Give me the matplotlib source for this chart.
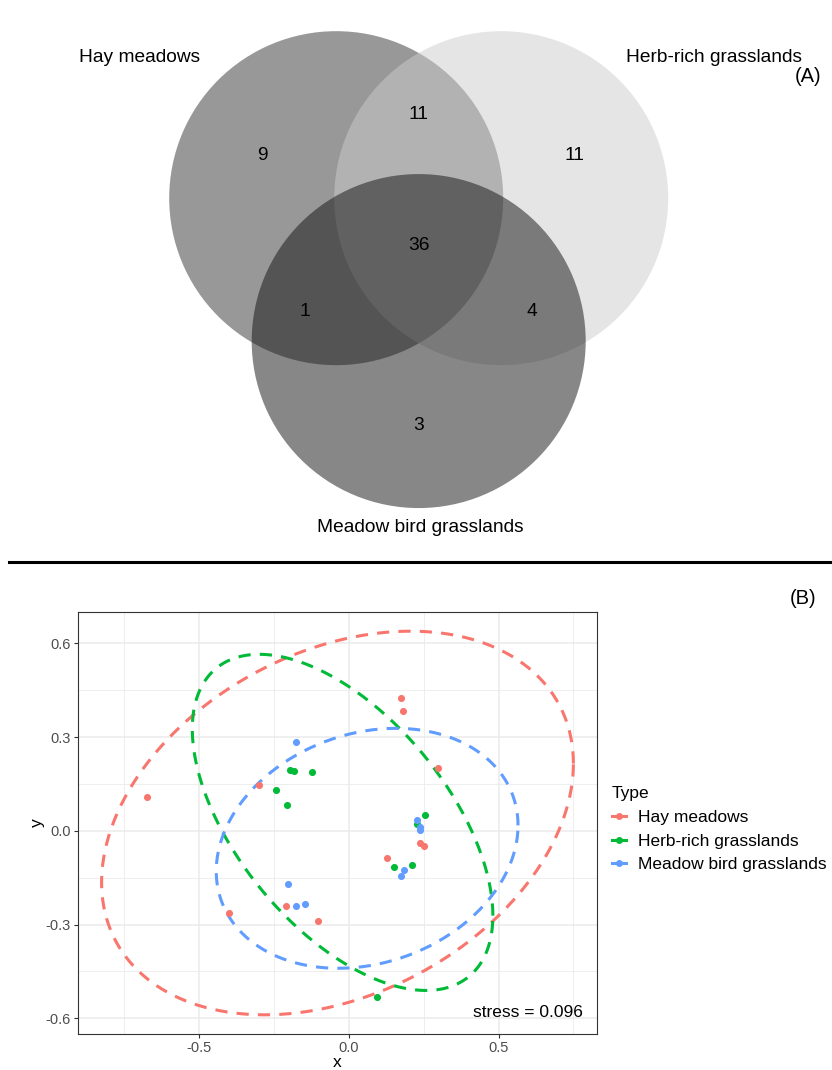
import numpy as np
import matplotlib.pyplot as plt
from matplotlib.patches import Circle
from matplotlib.lines import Line2D

plt.rcParams['font.family'] = ['Liberation Sans', 'DejaVu Sans']
plt.rcParams['axes.unicode_minus'] = False

# ---- panel A: Venn counts ----
set_names = ['Hay meadows', 'Herb-rich grasslands', 'Meadow bird grasslands']
only_counts = [9, 11, 3]        # in one set only (Hay, Herb, Bird)
pair_counts = [4, 1, 11]        # shared by the two sets other than set i
all_count = 36
venn_fills = ['#333333', '#cccccc', '#111111']

# ---- panel B: NMDS scores ----
types = ['Hay meadows', 'Herb-rich grasslands', 'Meadow bird grasslands']
type_colors = ['#F8766D', '#00BA38', '#619CFF']

hay_x = [-0.674, -0.299, 0.173, 0.182, 0.297, 0.239, 0.252, 0.126, -0.211, -0.400, -0.103]
hay_y = [0.109, 0.146, 0.426, 0.385, 0.202, -0.038, -0.049, -0.087, -0.240, -0.264, -0.290]
herb_x = [-0.195, -0.184, -0.123, -0.242, -0.206, 0.255, 0.227, 0.151, 0.212, 0.093]
herb_y = [0.196, 0.193, 0.188, 0.130, 0.082, 0.050, 0.021, -0.115, -0.111, -0.531]
bird_x = [-0.176, 0.227, 0.238, 0.236, 0.183, 0.175, -0.205, -0.176, -0.146]
bird_y = [0.283, 0.034, 0.011, 0.003, -0.127, -0.145, -0.171, -0.240, -0.235]

# stat_ellipse results: centre, spread, correlation
ell_cx = [-0.038, -0.021, 0.061]
ell_cy = [0.025, 0.027, -0.056]
ell_sx = [0.788, 0.502, 0.504]
ell_sy = [0.614, 0.538, 0.384]
ell_rho = [0.310, -0.555, 0.191]
stress = 0.096

W, H = 832, 1070
fig = plt.figure(figsize=(W / 100, H / 100), dpi=100)

# ---------------- Venn ----------------
axv = fig.add_axes([0, 1 - 560 / H, 1, 560 / H])
axv.set_xlim(0, W)
axv.set_ylim(560, 0)
axv.axis('off')

r, d = 167, 165
cen = np.array([418.7, 245.8])
dirs = np.array([[-np.sqrt(3) / 2, -0.5], [np.sqrt(3) / 2, -0.5], [0.0, 1.0]])
centres = cen + dirs * d / np.sqrt(3)
for (cx, cy), fc in zip(centres, venn_fills):
    axv.add_patch(Circle((cx, cy), r, facecolor=fc, edgecolor='none', alpha=0.5))

vkw = dict(ha='center', va='center', fontsize=13.8, color='black')
for i in range(3):
    px, py = cen + dirs[i] * 180
    axv.text(px, py, str(only_counts[i]), **vkw)
    px, py = cen - dirs[i] * 131
    axv.text(px, py, str(pair_counts[i]), **vkw)
axv.text(cen[0], cen[1], str(all_count), **vkw)

label_pos = [(140, 58), (714, 58), (420, 528)]
for name, (px, py) in zip(set_names, label_pos):
    axv.text(px, py, name, **vkw)

fig.text(808 / W, 1 - 76 / H, '(A)', ha='center', va='center', fontsize=14.5)
fig.text(803 / W, 1 - 599 / H, '(B)', ha='center', va='center', fontsize=14.5)
fig.add_artist(Line2D([9 / W, 1], [1 - 562 / H, 1 - 562 / H], color='black', lw=2.2,
                      transform=fig.transFigure))

# ---------------- NMDS ----------------
ax = fig.add_axes([78 / W, (H - 1034) / H, (597 - 78) / W, (1034 - 612) / H])

groups = [(hay_x, hay_y), (herb_x, herb_y), (bird_x, bird_y)]
t = np.linspace(0, 2 * np.pi, 361)
allx, ally = [], []
for i, ((gx, gy), col) in enumerate(zip(groups, type_colors)):
    ex = ell_cx[i] + ell_sx[i] * np.cos(t)
    ey = ell_cy[i] + ell_sy[i] * (ell_rho[i] * np.cos(t) + np.sqrt(1 - ell_rho[i] ** 2) * np.sin(t))
    ax.plot(ex, ey, color=col, lw=2.2, dashes=(4, 3), zorder=2)
    ax.scatter(gx, gy, s=26, color=col, linewidths=0, zorder=3)
    allx += list(ex) + gx
    ally += list(ey) + gy

lo, hi = min(allx), max(allx)
ax.set_xlim(lo - 0.05 * (hi - lo), hi + 0.05 * (hi - lo))
lo, hi = min(ally), max(ally)
ax.set_ylim(lo - 0.05 * (hi - lo), hi + 0.05 * (hi - lo))

ax.set_xticks([-0.5, 0.0, 0.5])
ax.set_xticks([-0.75, -0.25, 0.25, 0.75], minor=True)
ax.set_yticks([-0.6, -0.3, 0.0, 0.3, 0.6])
ax.set_yticks([-0.45, -0.15, 0.15, 0.45], minor=True)
ax.set_xticklabels(['-0.5', '0.0', '0.5'])
ax.set_yticklabels(['-0.6', '-0.3', '0.0', '0.3', '0.6'])
ax.grid(which='major', color='#ebebeb', lw=1.1)
ax.grid(which='minor', color='#ebebeb', lw=0.6)
ax.set_axisbelow(True)
ax.tick_params(which='major', length=3, width=0.8, color='#333333', labelcolor='#4d4d4d',
               labelsize=10.5, pad=2)
ax.tick_params(which='minor', length=0)
for s in ax.spines.values():
    s.set_color('#333333')
    s.set_linewidth(0.8)
ax.set_xlabel('x', fontsize=12.5, labelpad=0)
ax.set_ylabel('y', fontsize=12.5, labelpad=1)

ax.text(0.973, 0.052, 'stress = %.3f' % stress, transform=ax.transAxes,
        ha='right', va='center', fontsize=12.5)

handles = [Line2D([], [], color=c, lw=2.2, marker='o', markersize=5, markeredgewidth=0)
           for c in type_colors]
fig.legend(handles, types, title='Type', loc='upper left',
           bbox_to_anchor=(612 / W, 1 - 786 / H), frameon=False, fontsize=12.5,
           title_fontsize=12.5, alignment='left', handlelength=0.8, handletextpad=0.7,
           labelspacing=0.5, borderpad=0, borderaxespad=0)

fig.savefig('out.png', dpi=100)
